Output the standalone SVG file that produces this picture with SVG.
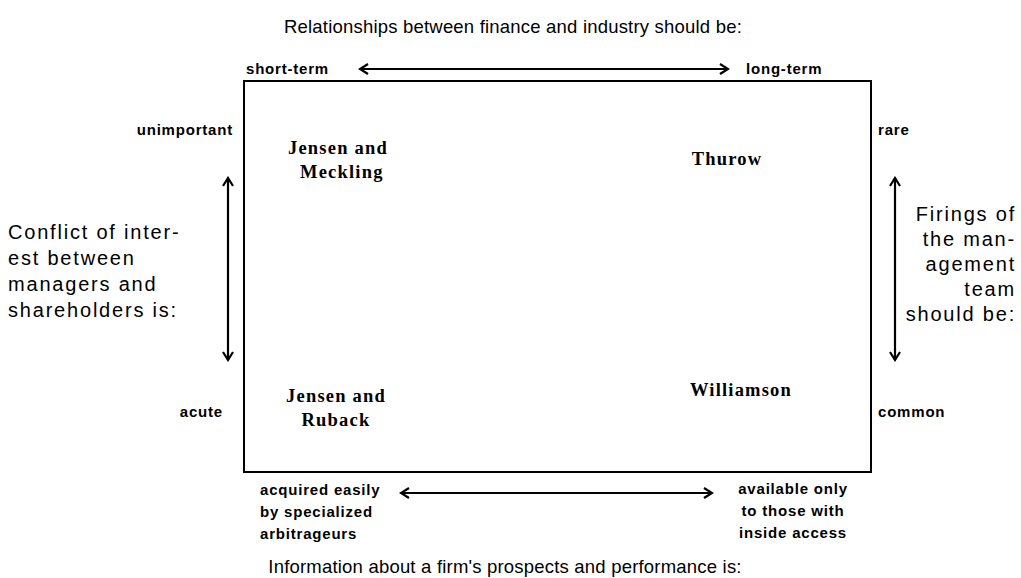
<svg xmlns="http://www.w3.org/2000/svg" width="1021" height="578" viewBox="0 0 1021 578">
  <defs>
    <marker id="head" viewBox="0 0 12 12" refX="10" refY="6" markerWidth="12" markerHeight="12" markerUnits="userSpaceOnUse" orient="auto-start-reverse">
      <path d="M2,1 L10,6 L2,11" fill="none" stroke="#000" stroke-width="2.2"/>
    </marker>
    <style>
      .axis { font-family: "Liberation Sans", Arial, sans-serif; font-size: 18.5px; letter-spacing: 0.2px; fill: #000; }
      .side { font-family: "Liberation Sans", Arial, sans-serif; font-size: 20px; letter-spacing: 1.8px; fill: #000; }
      .pole { font-family: "Liberation Sans", Arial, sans-serif; font-size: 15px; font-weight: bold; letter-spacing: 0.8px; fill: #000; }
      .name { font-family: "Liberation Serif", "Times New Roman", serif; font-size: 18.5px; font-weight: bold; letter-spacing: 1.2px; fill: #000; }
      .arrow { stroke: #000; stroke-width: 2.2; fill: none; marker-start: url(#head); marker-end: url(#head); }
      .frame { stroke: #000; stroke-width: 2; fill: #fff; }
    </style>
  </defs>
  <rect width="1021" height="578" fill="#fff"/>

  <!-- quadrant frame -->
  <rect id="frame" class="frame" x="244" y="81" width="627" height="391"/>

  <!-- axis titles -->
  <text class="axis" x="513" y="33" text-anchor="middle">Relationships between finance and industry should be:</text>
  <text class="axis" x="505" y="573" text-anchor="middle">Information about a firm's prospects and performance is:</text>
  <text class="side" x="8" y="239">Conflict of inter-</text>
  <text class="side" x="8" y="265">est between</text>
  <text class="side" x="8" y="291">managers and</text>
  <text class="side" x="8" y="317">shareholders is:</text>
  <g text-anchor="end">
    <text class="side" x="1016" y="221">Firings of</text>
    <text class="side" x="1016" y="246">the man-</text>
    <text class="side" x="1016" y="271">agement</text>
    <text class="side" x="1016" y="296">team</text>
    <text class="side" x="1016" y="321">should be:</text>
  </g>

  <!-- pole labels -->
  <text class="pole" x="246" y="74">short-term</text>
  <text class="pole" x="746" y="74">long-term</text>
  <text class="pole" x="233" y="135" text-anchor="end">unimportant</text>
  <text class="pole" x="223" y="417" text-anchor="end">acute</text>
  <text class="pole" x="878" y="135">rare</text>
  <text class="pole" x="878" y="417">common</text>
  <text class="pole" x="260" y="495">acquired easily</text>
  <text class="pole" x="260" y="517">by specialized</text>
  <text class="pole" x="260" y="539">arbitrageurs</text>
  <g text-anchor="middle">
    <text class="pole" x="793" y="494">available only</text>
    <text class="pole" x="793" y="516">to those with</text>
    <text class="pole" x="793" y="538">inside access</text>
  </g>

  <!-- connectors: double-headed scale arrows -->
  <g id="connectors">
    <line class="arrow" x1="360" y1="69" x2="728" y2="69"/>
    <line class="arrow" x1="401" y1="493" x2="712" y2="493"/>
    <line class="arrow" x1="228" y1="178" x2="228" y2="360"/>
    <line class="arrow" x1="895" y1="178" x2="895" y2="360"/>
  </g>

  <!-- theorist positions -->
  <g id="jensen-meckling">
    <text class="name" x="288" y="154">Jensen and</text>
    <text class="name" x="300" y="178">Meckling</text>
  </g>
  <g id="thurow">
    <text class="name" x="727" y="165" text-anchor="middle">Thurow</text>
  </g>
  <g id="jensen-ruback">
    <text class="name" x="336" y="402" text-anchor="middle">Jensen and</text>
    <text class="name" x="336" y="426" text-anchor="middle">Ruback</text>
  </g>
  <g id="williamson">
    <text class="name" x="741" y="396" text-anchor="middle">Williamson</text>
  </g>
</svg>
